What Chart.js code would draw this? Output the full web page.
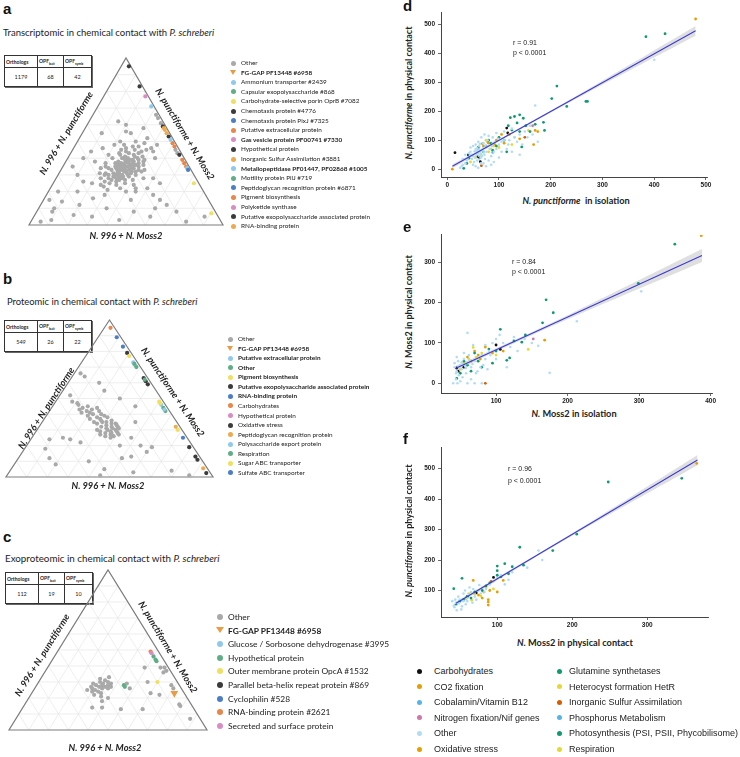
<!DOCTYPE html>
<html>
<head>
<meta charset="utf-8">
<script src="https://cdn.jsdelivr.net/npm/chart.js@4"></script>
<style>
body { margin:0; width:740px; height:757px; position:relative; overflow:hidden; background:#fff; font-family:Lato, sans-serif; color:#222; }
.abs { position:absolute; white-space:nowrap; line-height:1; color:#222; }
.wrap { position:absolute; }
.letter { font-family:'Liberation Sans', Arial, sans-serif; font-weight:bold; font-size:15px; color:#111; }
.tb { position:absolute; border-collapse:collapse; border:1.5px solid #222; box-shadow:1px 1px 0 #666; font-family:Lato, sans-serif; }
.tb th { border:0.8px solid #333; font-size:5px; font-weight:bold; text-align:left; padding:0 1px; height:11px; }
.tb td { border:0.8px solid #333; font-size:5.5px; text-align:center; height:16px; }
.tb sub { font-size:3.5px; }
.tlab { font-weight:bold; font-style:italic; font-size:9.3px; color:#222; }
.mk { position:absolute; border-radius:50%; }
.tri { position:absolute; width:0; height:0; }
</style>
</head>
<body>

<script>
/* ------------------------------------------------------------------ */
/*                     DATA - ternary plots (t, r in %)               */
/*   t = share towards the top corner, r = share towards bottom-right */
/* ------------------------------------------------------------------ */

const A_OTHER = [
  [34,32],[35,30],[33,33],[36,31],[32,34],[37,29],[34,35],[31,31],[35,33],[33,29],
  [38,32],[30,33],[36,34],[32,30],[34,28],[37,33],[33,36],[35,27],[31,35],[39,30],
  [29,32],[36,28],[34,37],[38,35],[30,30],[32,37],[40,31],[35,36],[33,26],[28,34],
  [37,26],[31,28],[39,34],[36,37],[29,29],[41,29],[34,24],[27,36],[32,39],[42,33],
  [30,26],[38,27],[35,39],[26,32],[40,36],[33,40],[28,27],[43,30],[37,38],[31,24],
  [44,28],[45,32],[43,35],[41,38],[39,40],[36,41],[33,43],[30,40],[27,40],[25,37],
  [24,33],[25,29],[26,26],[28,23],[31,21],[34,20],[37,21],[40,23],[43,25],[46,27],
  [47,30],[44,36],[42,26],[39,37],[27,29],[29,37],[30,24],[35,22],[38,40],[32,42],
  [41,34],[37,35],[35,34],[33,31],[31,30],[36,29],[38,31],[40,28],[34,30],[32,33],
  [30,36],[29,34],[27,33],[28,31],[35,28],[37,31],[39,33],[33,35],[31,37],[36,35],
  [48,25],[50,22],[24,42],[22,36],[21,30],[23,27],[49,35],[20,45],[46,40],[44,42],
  [50,30],[55,25],[48,20],[45,38],[52,35],[58,30],[46,15],[44,10],[20,40],[18,30],
  [22,50],[15,45],[12,20],[10,35],[25,20],[20,15],[8,50],[5,30],[5,60],[10,60],
  [15,60],[22,44],[18,55],[28,45],[26,15],[30,10],[35,5],[40,8],[45,25],[60,20],
  [62,15],[55,10],[3,10],[2,80],[5,88],[8,72],[12,65],[25,55],[40,45],[48,42],
  [16,25],[28,50],[24,25],[42,20],[38,15],[3,45],[6,20],[14,10],[20,5],[8,8],
  [15,3],[2,5],[10,8],[66,32.5],[64,34.5],[61,37.5],[45,53],[43,55],[56,22],[47,33]
];
const A_CHEMO = [[95,4]];
const A_HYPO = [[83,15.5]];
const A_GAS = [[77,21.5]];
const A_AMMON = [[71,27.5]];
const A_EXOPOLY = [[59,39.5],[53,45.5],[42,56.5]];
const A_SULF = [[58,40.5],[55,43.5]];
const A_RNA = [[57,41.5]];
const A_PIGM = [[49,49.5],[47,51.5],[39,59.5]];
const A_EXTRA = [[37,61.5],[35,63.5]];
const A_METAL = [[51,47.5],[34,64.5]];
const A_PEPT = [[33,65.5]];
const A_PORIN = [[25,72.5],[7,90.5]];

const B_OTHER = [
  [30,34],[31,33],[29,36],[32,35],[28,34],[30,38],[33,32],[27,37],[31,39],[29,31],
  [34,34],[26,35],[32,30],[28,40],[35,31],[30,29],[33,37],[27,32],[25,38],[31,36],
  [36,28],[38,25],[40,22],[42,18],[44,15],[46,12],[47,11],[43,20],[41,16],[39,20],
  [37,22],[45,17],[40,26],[35,25],[42,24],[38,30],[44,22],[36,33],[34,27],[39,28],
  [29,39],[27,41],[32,38],[34,36],[26,39],[28,37],[35,29],[37,27],[41,20],[43,14],
  [55,20],[60,15],[50,30],[48,8],[64,6],[20,45],[24,9],[24,19],[22,25],[12,50],
  [10,35],[25,48],[20,55],[8,20],[5,45],[3,60],[1,88],[4,78],[13,54],[16,60],
  [19,61],[35,45],[12,15],[25,15],[1,45],[45,40],[52,5],[18,10],[66,3]
];
const B_CARB = [[95,3]];
const B_SULFATE = [[89,9],[83,15]];
const B_EXOPOLY = [[79,19],[63,35],[61,37],[59,39],[19,79],[11,87],[2.5,95.5]];
const B_PIGM = [[77,21],[48,50],[30,68]];
const B_EXTRA = [[73,25],[71,27],[46,52]];
const B_OTHERBOLD = [[72,26],[62,36],[44,54],[42,56]];
const B_RNA = [[25,73]];
const B_PEPT = [[5.5,92.5],[32,66]];
const B_OXID = [[13,85]];
const B_RESP = [[70,28]];
const B_SUGAR = [[47,51]];
const B_POLY = [[43,55]];

const C_OTHER = [
  [27,32],[28,30],[26,34],[29,33],[25,31],[27,35],[30,31],[24,33],[28,36],[26,29],
  [29,28],[31,33],[23,35],[27,38],[25,27],[30,35],[22,32],[28,33],[26,37],[24,30],
  [32,30],[29,37],[21,36],[27,28],[33,34],[14,35],[14,40],[13,50],[13,61],[26,48],
  [29,45],[39,49],[30,55],[23,60],[36,60],[39,57],[37,61],[39,59],[16,78],[15,79],
  [7,88],[26,70],[28,68],[22,65],[20,40],[18,38]
];
const C_HYPO = [[28,44],[27,45],[46,50],[44,52],[43,53]];
const C_RNA = [[49,47]];
const C_SECRET = [[48,48]];
const C_OUTER = [[30,60]];
const C_FGGAP = [[23,72]];

/* ------------------------------------------------------------------ */
/*                     DATA - expression scatter plots (x, y)         */
/* ------------------------------------------------------------------ */

const D_OTHER = [
  [45,60],[50,45],[55,70],[60,55],[62,80],[65,40],[68,65],[70,90],[72,50],[75,75],
  [58,30],[52,25],[48,35],[40,40],[42,55],[38,30],[35,20],[30,15],[28,10],[25,5],
  [55,10],[60,5],[70,20],[80,30],[85,45],[90,60],[95,70],[100,85],[105,95],[110,100],
  [78,100],[66,110],[60,95],[55,85],[50,80],[45,75],[72,120],[80,115],[88,110],[92,95],
  [98,105],[64,60],[67,45],[73,35],[76,60],[82,70],[86,80],[56,50],[53,62],[47,50],
  [44,48],[62,68],[69,72],[74,82],[58,72],[63,88],[120,100],[130,110],[140,120],[150,130],
  [160,150],[170,220],[175,95],[165,120],[145,85],[125,60],[115,70],[100,40],[90,25],[85,15],
  [400,378],[140,50],[155,110],[110,130],[95,125],[35,50],[30,35],[65,20],[75,10],[50,15],
  [125,140],[135,95],[105,60],[118,85],[88,90],[57,63],[61,47],[66,52],[71,58],[54,40]
];
const D_PHOTO = [
  [384,458],[421,468],[212,287],[202,244],[231,217],[268,234],[271,234],[122,178],[130,182],[140,188],
  [147,176],[135,160],[118,150],[186,162],[188,134],[144,77],[170,155],[160,130],[152,150],[100,110],
  [110,100],[32,3],[42,38],[38,20],[88,65],[75,80],[80,100],[115,60],[125,135],[140,130],
  [85,90],[60,75],[70,60],[95,80]
];
const D_CO2 = [[480,519],[10,0],[170,134],[167,85],[140,105],[95,100],[80,90],[70,80],[60,70],[175,130],[120,120],[110,90]];
const D_RESP = [[157,134],[125,85],[100,75],[90,80],[80,60],[65,50],[55,40],[75,100],[85,70],[130,110],[45,25]];
const D_CARB = [[15,57],[41,49],[60,43],[64,26],[115,142],[117,125]];
const D_OXID = [[78,95],[92,85],[105,120],[68,88]];
const D_SULF = [[66,12],[150,110]];
const D_NIF = [[165,150],[58,45]];
const D_COBAL = [[62,38],[88,58]];
const D_FIT_X = [10, 480];
const D_FIT_Y = [10, 478];
const D_BAND_X = [10, 100, 250, 480];
const D_BAND_HI = [17, 103, 254, 495];
const D_BAND_LO = [3, 96, 244, 461];

const E_OTHER = [
  [45,30],[50,45],[55,60],[60,50],[48,20],[42,40],[52,35],[58,25],[65,40],[70,55],
  [75,65],[80,70],[85,60],[62,70],[55,75],[47,55],[44,10],[50,5],[60,0],[70,0],
  [80,0],[65,10],[72,25],[78,40],[90,80],[95,100],[100,110],[105,120],[85,95],[68,95],
  [60,125],[110,100],[120,90],[130,80],[140,110],[175,26],[213,154],[303,228],[159,93],[115,40],
  [100,60],[45,65],[42,50],[53,15],[57,42],[63,58],[74,30],[82,45],[88,35],[40,0],
  [46,0],[150,100],[125,115],[92,70],[48,42],[52,52],[58,38],[44,25],[67,48]
];
const E_PHOTO = [
  [350,345],[299,248],[170,207],[180,175],[165,150],[106,134],[141,120],[136,102],[115,57],[119,63],
  [90,85],[75,55],[60,45],[50,25],[45,12],[80,40],[70,75],[100,80],[125,105],[95,50],
  [55,55],[65,30]
];
const E_CO2 = [[387,366],[168,107],[85,90],[70,80],[60,65],[75,70],[110,80]];
const E_RESP = [[145,84],[68,89],[72,65],[62,60],[55,50],[80,75],[100,70],[50,35]];
const E_CARB = [[100,95],[106,84],[45,38],[47,30],[55,40]];
const E_OXID = [[65,55],[78,60],[95,75]];
const E_SULF = [[85,0]];
const E_NIF = [[152,110]];
const E_FIT_X = [43, 388];
const E_FIT_Y = [37, 317];
const E_BAND_X = [43, 100, 200, 388];
const E_BAND_HI = [43, 87, 169, 333];
const E_BAND_LO = [31, 79, 159, 301];

const F_OTHER = [
  [46,35],[52,38],[45,60],[50,70],[55,65],[60,75],[48,80],[55,90],[62,85],[65,95],
  [70,80],[75,100],[80,110],[58,55],[42,50],[44,70],[40,65],[53,48],[67,60],[72,70],
  [85,105],[90,120],[95,130],[100,140],[105,150],[155,231],[160,200],[120,160],[140,175],[115,135],
  [110,120],[78,90],[63,110],[57,100],[49,58],[43,45],[68,105],[76,118],[83,95],[60,65]
];
const F_PHOTO = [
  [346,468],[248,456],[206,285],[174,231],[130,242],[110,188],[100,180],[100,165],[100,150],[120,178],
  [135,183],[53,140],[42,106],[90,125],[80,100],[70,95],[60,80],[50,65],[45,55],[65,75],
  [85,115],[105,145],[115,155],[55,70]
];
const F_CO2 = [[366,517],[88,52],[68,133],[108,133],[88,70],[80,75],[75,85],[90,100],[100,95]];
const F_RESP = [[62,90],[70,88],[78,82],[85,110],[95,105],[58,72],[66,68]];
const F_CARB = [[95,143],[60,80],[72,92]];
const F_OXID = [[88,62],[82,95]];
const F_SULF = [[92,130]];
const F_FIT_X = [45, 367];
const F_FIT_Y = [58, 528];
const F_BAND_X = [45, 100, 200, 367];
const F_BAND_HI = [64, 142, 288, 545];
const F_BAND_LO = [52, 134, 280, 511];

const D_X_TICKS = [0, 100, 200, 300, 400, 500];
const D_Y_TICKS = [0, 100, 200, 300, 400, 500];
const E_X_TICKS = [100, 200, 300, 400];
const E_Y_TICKS = [0, 100, 200, 300];
const F_X_TICKS = [100, 200, 300];
const F_Y_TICKS = [100, 200, 300, 400, 500];

/* legends */
const A_LEG = ['Other', 'FG-GAP PF13448 #6958', 'Ammonium transporter #2439', 'Capsular exopolysaccharide #868',
  'Carbohydrate-selective porin OprB #7082', 'Chemotaxis protein #4776', 'Chemotaxis protein PixJ #7325',
  'Putative extracellular protein', 'Gas vesicle protein PF00741 #7330', 'Hypothetical protein',
  'Inorganic Sulfur Assimilation #3881', 'Metallopeptidase PF01447, PF02868 #1005', 'Motility protein PilJ #719',
  'Peptidoglycan recognition protein #6871', 'Pigment biosynthesis', 'Polyketide synthase',
  'Putative exopolysaccharide associated protein', 'RNA-binding protein'];
const A_LEG_BOLD = [1, 8, 11];
const B_LEG = ['Other', 'FG-GAP PF13448 #6958', 'Putative extracellular protein', 'Other', 'Pigment biosynthesis',
  'Putative exopolysaccharide associated protein', 'RNA-binding protein', 'Carbohydrates', 'Hypothetical protein',
  'Oxidative stress', 'Peptidoglycan recognition protein', 'Polysaccharide export protein', 'Respiration',
  'Sugar ABC transporter', 'Sulfate ABC transporter'];
const B_LEG_BOLD = [1, 2, 3, 4, 5, 6];
const C_LEG = ['Other', 'FG-GAP PF13448 #6958', 'Glucose / Sorbosone dehydrogenase #3995', 'Hypothetical protein',
  'Outer membrane protein OpcA #1532', 'Parallel beta-helix repeat protein  #869', 'Cyclophilin  #528',
  'RNA-binding protein  #2621', 'Secreted and surface protein'];
const C_LEG_BOLD = [1];
const S_LEG = ['Carbohydrates', 'CO2 fixation', 'Cobalamin/Vitamin B12', 'Nitrogen fixation/Nif genes', 'Other',
  'Oxidative stress', 'Glutamine synthetases', 'Heterocyst formation HetR', 'Inorganic Sulfur Assimilation',
  'Phosphorus Metabolism', 'Photosynthesis (PSI, PSII, Phycobilisome)', 'Respiration'];

/* ------------------------------------------------------------------ */
/*                              COLOURS                               */
/* ------------------------------------------------------------------ */
const GRAY = '#a9a9a9', LBLUE = '#8fcaec', GREEN = '#5fae86', YELLOW = '#f0e061', DARK = '#3b3b3b',
      BLUE = '#4c7ec4', ORANGE = '#e8864c', PINK = '#d88dc4', GOLD = '#eeaa4e', FGGAP = '#ea9c45';
const A_LEG_COL = [GRAY, FGGAP, LBLUE, GREEN, YELLOW, DARK, BLUE, ORANGE, PINK, DARK, GOLD, LBLUE, GREEN, BLUE, ORANGE, PINK, DARK, GOLD];
const B_LEG_COL = [GRAY, FGGAP, LBLUE, GREEN, YELLOW, DARK, BLUE, ORANGE, PINK, DARK, GOLD, LBLUE, GREEN, YELLOW, BLUE];
const C_LEG_COL = [GRAY, FGGAP, LBLUE, GREEN, YELLOW, DARK, BLUE, ORANGE, PINK];

const S_BLACK = '#111111', S_ORANGE = '#e69f00', S_SKY = '#56b4e9', S_PINK = '#cc79a7', S_PALE = '#b3dcf3',
      S_GREEN = '#0f9a70', S_YELLOW = '#e6d935', S_VERM = '#d55e00';
const S_LEG_COL = [S_BLACK, S_ORANGE, S_SKY, S_PINK, S_PALE, S_ORANGE, S_GREEN, S_YELLOW, S_VERM, S_SKY, S_GREEN, S_YELLOW];

/* ------------------------------------------------------------------ */
/*                              HELPERS                               */
/* ------------------------------------------------------------------ */

function put(html, x, y, cls, css, anchor, rot) {
  const d = document.createElement('div');
  d.className = 'abs ' + (cls || '');
  d.innerHTML = html;
  if (css) d.style.cssText += css;
  d.style.left = x + 'px';
  d.style.top = y + 'px';
  const ax = anchor === 'c' ? '-50%' : '0';
  d.style.transform = `translate(${ax},-50%)` + (rot ? ` rotate(${rot}deg)` : '');
  document.body.appendChild(d);
}

function table(x, y, vals) {
  const t = document.createElement('table');
  t.className = 'tb';
  t.style.left = x + 'px';
  t.style.top = y + 'px';
  t.innerHTML = '<tr><th style="width:30px">Orthologs</th><th style="width:23px">OPF<sub>bait</sub></th>' +
    '<th style="width:25px">OPF<sub>symb</sub></th></tr><tr><td>' + vals.join('</td><td>') + '</td></tr>';
  document.body.appendChild(t);
}

function legend(x, y, dy, labels, colors, bold, size, mark, font, gap) {
  labels.forEach((lab, i) => {
    const yy = y + i * dy;
    if (i === 1 && colors[i] === FGGAP) {
      const t = document.createElement('div');
      t.className = 'tri';
      t.style.cssText += `left:${x - mark * 0.7}px;top:${yy - mark * 0.55}px;border-left:${mark * 0.7}px solid transparent;` +
        `border-right:${mark * 0.7}px solid transparent;border-top:${mark * 1.1}px solid ${colors[i]};`;
      document.body.appendChild(t);
    } else {
      const m = document.createElement('div');
      m.className = 'mk';
      m.style.cssText += `left:${x - mark / 2}px;top:${yy - mark / 2}px;width:${mark}px;height:${mark}px;background:${colors[i]};`;
      document.body.appendChild(m);
    }
    put(lab, x + (gap || 8), yy, '', `font-size:${size}px;color:#222;` + (bold.includes(i) ? 'font-weight:bold;' : '') +
      (font ? `font-family:${font};` : ''));
  });
}

function makeWrap(left, top, w, h) {
  const d = document.createElement('div');
  d.className = 'wrap';
  d.style.cssText += `left:${left}px;top:${top}px;width:${w}px;height:${h}px;`;
  const c = document.createElement('canvas');
  d.appendChild(c);
  document.body.appendChild(d);
  return c;
}

/* triangle outline and grid, through the chart scales */
const triGrid = {
  id: 'triGrid',
  beforeDatasetsDraw(chart) {
    const {ctx, scales: {x, y}} = chart;
    const P = (t, r) => [x.getPixelForValue(r + t / 2), y.getPixelForValue(t)];
    const seg = (a, b) => { ctx.beginPath(); ctx.moveTo(a[0], a[1]); ctx.lineTo(b[0], b[1]); ctx.stroke(); };
    ctx.save();
    ctx.strokeStyle = '#e6e6e6';
    ctx.lineWidth = 0.7;
    for (let i = 1; i < 10; i++) {
      const f = i / 10;
      seg(P(f, 0), P(f, 1 - f));
      seg(P(0, f), P(1 - f, f));
      seg(P(0, 1 - f), P(1 - f, 0));
    }
    ctx.strokeStyle = '#7d7d7d';
    ctx.lineWidth = 1.2;
    ctx.beginPath();
    const a = P(0, 0), b = P(0, 1), c = P(1, 0);
    ctx.moveTo(a[0], a[1]); ctx.lineTo(b[0], b[1]); ctx.lineTo(c[0], c[1]); ctx.closePath();
    ctx.stroke();
    ctx.restore();
  }
};

const PAD = 8;
function ternaryChart(tri, groups) {
  const cv = makeWrap(tri.left - PAD, tri.top - PAD, tri.right - tri.left + 2 * PAD, tri.bottom - tri.top + 2 * PAD);
  new Chart(cv, {
    type: 'scatter',
    data: {
      datasets: groups.slice().reverse().map(g => ({
        data: g[0].map(([t, r]) => ({x: (r + t / 2) / 100, y: t / 100})),
        backgroundColor: g[1],
        borderWidth: 0,
        pointRadius: g[2] || 2.1,
        pointStyle: g[3] ? 'triangle' : 'circle',
        rotation: g[3] ? 180 : 0,
        clip: false
      }))
    },
    options: {
      responsive: true, maintainAspectRatio: false, animation: false, events: [],
      layout: {padding: PAD},
      scales: {x: {display: false, min: 0, max: 1}, y: {display: false, min: 0, max: 1}},
      plugins: {legend: {display: false}, tooltip: {enabled: false}}
    },
    plugins: [triGrid]
  });
}

const Y_AXIS_W = 22, X_AXIS_H = 14, TOP_PAD = 4, RIGHT_PAD = 10;
function scatterChart(box, xr, yr, xt, yt, series, fx, fy, bx, bhi, blo) {
  const cv = makeWrap(box.left - Y_AXIS_W, box.top - TOP_PAD, box.right - box.left + Y_AXIS_W + RIGHT_PAD,
    box.bottom - box.top + TOP_PAD + X_AXIS_H);
  const tickFont = {family: "'Liberation Sans', Arial, sans-serif", size: 6.5, weight: 'bold'};
  const axis = (range, ticks, isX) => ({
    type: 'linear', min: range[0], max: range[1],
    afterBuildTicks: s => { s.ticks = ticks.map(v => ({value: v})); },
    afterFit: s => { if (isX) s.height = X_AXIS_H; else s.width = Y_AXIS_W; },
    grid: {display: true, drawOnChartArea: false, drawTicks: true, tickLength: 3, color: '#444', lineWidth: 0.8},
    border: {display: true, color: '#444', width: 1},
    ticks: {font: tickFont, color: '#222', padding: isX ? 1 : 3, maxRotation: 0, autoSkip: false}
  });
  const datasets = [{
    type: 'line', data: fx.map((x, i) => ({x, y: fy[i]})), borderColor: '#3b3bd4', borderWidth: 1.1,
    pointRadius: 0, fill: false, order: 0
  }];
  series.forEach(([pts, col, rad]) => datasets.push({
    data: pts.map(([x, y]) => ({x, y})), backgroundColor: col, borderWidth: 0, pointRadius: rad || 1.4, order: 1
  }));
  datasets.push({
    type: 'line', data: bx.map((x, i) => ({x, y: bhi[i]})), borderWidth: 0, pointRadius: 0,
    backgroundColor: 'rgba(185,185,185,0.45)', fill: '+1', tension: 0.3, order: 3
  });
  datasets.push({
    type: 'line', data: bx.map((x, i) => ({x, y: blo[i]})), borderWidth: 0, pointRadius: 0,
    fill: false, tension: 0.3, order: 3
  });
  new Chart(cv, {
    type: 'scatter',
    data: {datasets},
    options: {
      responsive: true, maintainAspectRatio: false, animation: false, events: [],
      layout: {padding: {left: 0, top: TOP_PAD, right: RIGHT_PAD, bottom: 0}},
      scales: {x: axis(xr, xt, true), y: axis(yr, yt, false)},
      plugins: {legend: {display: false}, tooltip: {enabled: false}}
    }
  });
}

/* ------------------------------------------------------------------ */
/*                              PANELS                                */
/* ------------------------------------------------------------------ */

/* panel a */
put('a', 3, 8, 'letter');
put('Transcriptomic in chemical contact with <i>P. schreberi</i>', 3, 33, '', 'font-size:9.5px;');
table(4, 55, [1179, 68, 42]);
ternaryChart({left: 29, right: 223, top: 58, bottom: 225}, [
  [A_OTHER, GRAY], [A_CHEMO, DARK], [A_HYPO, DARK], [A_GAS, PINK], [A_AMMON, LBLUE], [A_EXOPOLY, DARK],
  [A_SULF, GOLD], [A_RNA, GOLD], [A_PIGM, ORANGE], [A_EXTRA, ORANGE], [A_METAL, LBLUE], [A_PEPT, BLUE], [A_PORIN, YELLOW]
]);
put('N. 996 + N. punctiforme', 66, 133, 'tlab', '', 'c', -59);
put('N. punctiforme + N. Moss2', 185, 134, 'tlab', '', 'c', 59);
put('N. 996 + N. Moss2', 126, 236, 'tlab', '', 'c');
legend(233, 63, 9.6, A_LEG, A_LEG_COL, A_LEG_BOLD, 6.4, 5);

/* panel b */
put('b', 3, 278, 'letter');
put('Proteomic in chemical contact with <i>P. schreberi</i>', 7, 302, '', 'font-size:9.4px;');
table(4, 320, [549, 26, 22]);
ternaryChart({left: 6, right: 213, top: 320, bottom: 477}, [
  [B_OTHER, GRAY], [B_CARB, ORANGE], [B_SULFATE, BLUE], [B_EXOPOLY, DARK], [B_PIGM, YELLOW], [B_EXTRA, LBLUE],
  [B_OTHERBOLD, GREEN], [B_RNA, BLUE], [B_PEPT, GOLD], [B_OXID, DARK], [B_RESP, GREEN], [B_SUGAR, YELLOW], [B_POLY, LBLUE]
]);
put('N. 996 + N. punctiforme', 46, 408, 'tlab', '', 'c', -57);
put('N. punctiforme + N. Moss2', 173, 392, 'tlab', '', 'c', 56);
put('N. 996 + N. Moss2', 108, 486, 'tlab', '', 'c');
legend(230, 339, 9.57, B_LEG, B_LEG_COL, B_LEG_BOLD, 6.4, 5);

/* panel c */
put('c', 3, 536, 'letter');
put('Exoproteomic in chemical contact with <i>P. schreberi</i>', 5, 559, '', 'font-size:9.8px;');
table(5, 572, [112, 19, 10]);
ternaryChart({left: 9, right: 207, top: 570, bottom: 730}, [
  [C_OTHER, GRAY], [C_HYPO, GREEN], [C_RNA, ORANGE], [C_SECRET, PINK], [C_OUTER, YELLOW], [C_FGGAP, FGGAP, 4.5, true]
]);
put('N. 996 + N. punctiforme', 42, 655, 'tlab', '', 'c', -58);
put('N. punctiforme + N. Moss2', 168, 647, 'tlab', '', 'c', 59);
put('N. 996 + N. Moss2', 105, 748, 'tlab', '', 'c');
legend(220, 617, 13.6, C_LEG, C_LEG_COL, C_LEG_BOLD, 8.4, 6);

/* panel d */
put('d', 403, 5, 'letter');
scatterChart({left: 441, right: 707, top: 10, bottom: 177}, [-12, 502], [-27, 540], D_X_TICKS, D_Y_TICKS, [
  [D_OTHER, S_PALE, 1.3], [D_PHOTO, S_GREEN], [D_CO2, S_ORANGE], [D_RESP, S_YELLOW], [D_CARB, S_BLACK],
  [D_OXID, S_ORANGE], [D_SULF, S_VERM], [D_NIF, S_PINK], [D_COBAL, S_SKY]
], D_FIT_X, D_FIT_Y, D_BAND_X, D_BAND_HI, D_BAND_LO);
put('<i>N. punctiforme</i> in physical contact', 408, 93, '', 'font-weight:bold;font-size:9px;', 'c', -90);
put('<i>N. punctiforme</i> &nbsp;in isolation', 576, 201, '', 'font-weight:bold;font-size:9.2px;', 'c');
put('r = 0.91', 513, 42, '', "font-family:'Liberation Sans',Arial;font-size:7px;");
put('p &lt; 0.0001', 513, 52, '', "font-family:'Liberation Sans',Arial;font-size:7px;");

/* panel e */
put('e', 403, 226, 'letter');
scatterChart({left: 441, right: 712, top: 232, bottom: 393}, [23, 402], [-24, 368], E_X_TICKS, E_Y_TICKS, [
  [E_OTHER, S_PALE, 1.3], [E_PHOTO, S_GREEN], [E_CO2, S_ORANGE], [E_RESP, S_YELLOW], [E_CARB, S_BLACK],
  [E_OXID, S_ORANGE], [E_SULF, S_VERM], [E_NIF, S_PINK]
], E_FIT_X, E_FIT_Y, E_BAND_X, E_BAND_HI, E_BAND_LO);
put('<i>N.</i> Moss2 in physical contact', 408, 312, '', 'font-weight:bold;font-size:9px;', 'c', -90);
put('<i>N.</i> Moss2 in isolation', 574, 414, '', 'font-weight:bold;font-size:9.2px;', 'c');
put('r = 0.84', 512, 261, '', "font-family:'Liberation Sans',Arial;font-size:7px;");
put('p &lt; 0.0001', 512, 271, '', "font-family:'Liberation Sans',Arial;font-size:7px;");

/* panel f */
put('f', 403, 438, 'letter');
scatterChart({left: 441, right: 708, top: 445, bottom: 617}, [25, 381], [13, 568], F_X_TICKS, F_Y_TICKS, [
  [F_OTHER, S_PALE, 1.3], [F_PHOTO, S_GREEN], [F_CO2, S_ORANGE], [F_RESP, S_YELLOW], [F_CARB, S_BLACK],
  [F_OXID, S_ORANGE], [F_SULF, S_VERM]
], F_FIT_X, F_FIT_Y, F_BAND_X, F_BAND_HI, F_BAND_LO);
put('<i>N. punctiforme</i> in physical contact', 408, 531, '', 'font-weight:bold;font-size:9px;', 'c', -90);
put('<i>N.</i> Moss2 in physical contact', 575, 643, '', 'font-weight:bold;font-size:9.2px;', 'c');
put('r = 0.96', 508, 468, '', "font-family:'Liberation Sans',Arial;font-size:7px;");
put('p &lt; 0.0001', 508, 480, '', "font-family:'Liberation Sans',Arial;font-size:7px;");

/* bottom legend for d-f */
legend(419, 671, 15.6, S_LEG.slice(0, 6), S_LEG_COL.slice(0, 6), [], 9, 5, "'Liberation Sans', Arial, sans-serif", 15);
legend(559, 671, 15.6, S_LEG.slice(6), S_LEG_COL.slice(6), [], 9, 5, "'Liberation Sans', Arial, sans-serif", 10);
</script>
</body>
</html>
